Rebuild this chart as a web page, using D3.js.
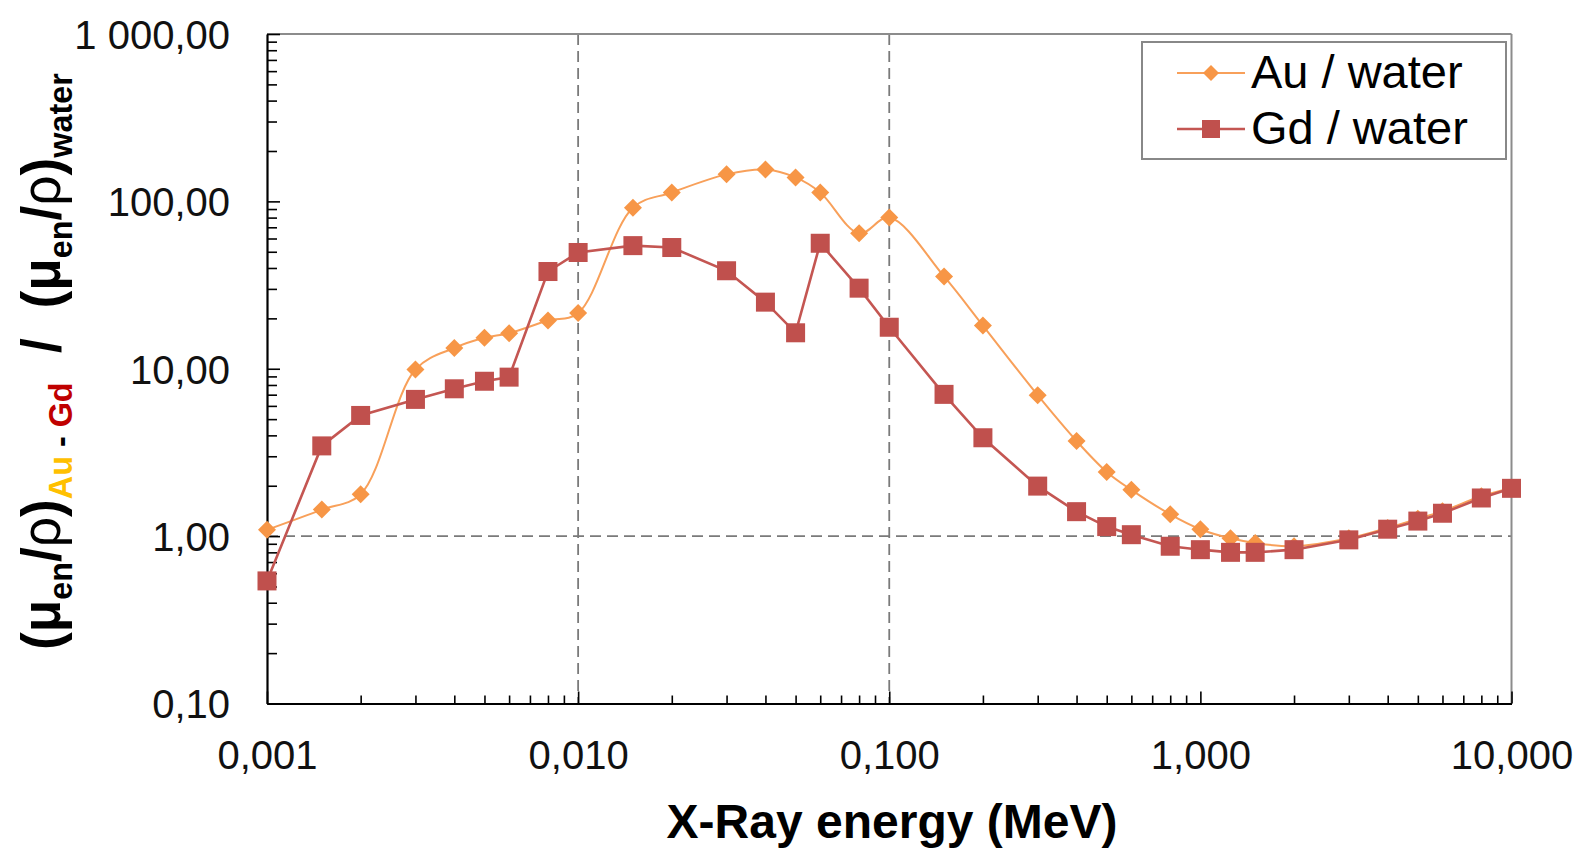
<!DOCTYPE html>
<html>
<head>
<meta charset="utf-8">
<script src="https://cdn.jsdelivr.net/npm/d3@7"></script>
<style>
  html, body { margin: 0; padding: 0; background: #fff; }
  svg { display: block; font-family: "Liberation Sans", Arial, sans-serif; }
</style>
</head>
<body>
<svg id="chart" width="1581" height="850"></svg>
<script>
// ---- data ----
const energy = [0.001, 0.0015, 0.002, 0.003, 0.004, 0.005, 0.006, 0.008, 0.01, 0.015, 0.02, 0.03, 0.04, 0.05, 0.06, 0.08, 0.1, 0.15, 0.2, 0.3, 0.4, 0.5, 0.6, 0.8, 1, 1.25, 1.5, 2, 3, 4, 5, 6, 8, 10];
const auWater = [1.09, 1.44, 1.78, 9.9, 13.3, 15.3, 16.3, 19.4, 21.5, 91.7, 113, 145, 155, 139, 113, 64.4, 80, 35.6, 18.1, 6.95, 3.70, 2.42, 1.89, 1.35, 1.10, 0.97, 0.91, 0.87, 0.97, 1.12, 1.27, 1.41, 1.73, 1.94];
const gdWater = [0.54, 3.46, 5.26, 6.56, 7.59, 8.42, 8.91, 38.1, 49.5, 54.4, 53, 38.5, 25, 16.4, 56.2, 30.3, 17.7, 7.03, 3.87, 1.99, 1.40, 1.14, 1.02, 0.87, 0.83, 0.80, 0.80, 0.83, 0.95, 1.10, 1.23, 1.37, 1.69, 1.93];
const seriesNames = ["Au / water", "Gd / water"];
const xTicks = [0.001, 0.01, 0.1, 1, 10];
const yTicks = [0.1, 1, 10, 100, 1000];
const xGrid = [0.01, 0.1];
const yGrid = [1];
const xTitle = "X-Ray energy (MeV)";

// ---- layout ----
const svg = d3.select("#chart");
const L = 267, R = 1511.5, T = 34, B = 703.5;
const x = d3.scaleLog().domain([0.001, 10]).range([L, R]);
const y = d3.scaleLog().domain([0.1, 1000]).range([B, T]);
const loc = d3.formatLocale({decimal: ",", thousands: "\u00a0", grouping: [3], currency: ["", ""]});
const fmtY = loc.format(",.2f");
const fmtX = loc.format(",.3f");

const AU = "#F79646", AU_LINE = "#F8A05A";
const GD = "#C0504D", GD_LINE = "#C45652";

function minors(lo, hi) {
  const out = [];
  for (let p = lo; p < hi; p *= 10) for (let k = 2; k <= 9; k++) out.push(+(p * k).toPrecision(6));
  return out;
}

// gridlines (dashed)
const grid = svg.append("g");
grid.selectAll(".vg").data(xGrid).join("line")
  .attr("x1", d => x(d)).attr("x2", d => x(d)).attr("y1", T).attr("y2", B)
  .attr("stroke", "#7a7a7a").attr("stroke-width", 1.8).attr("stroke-dasharray", "11,6");
grid.selectAll(".hg").data(yGrid).join("line")
  .attr("x1", L).attr("x2", R).attr("y1", d => y(d)).attr("y2", d => y(d))
  .attr("stroke", "#7a7a7a").attr("stroke-width", 1.8).attr("stroke-dasharray", "11,6");

// frame top/right
svg.append("line").attr("x1", L).attr("x2", R).attr("y1", T).attr("y2", T).attr("stroke", "#8c8c8c").attr("stroke-width", 2);
svg.append("line").attr("x1", R).attr("x2", R).attr("y1", T).attr("y2", B).attr("stroke", "#8c8c8c").attr("stroke-width", 2);

// y axis
const yAxisG = svg.append("g").attr("transform", `translate(${L},0)`)
  .call(d3.axisLeft(y).tickValues(yTicks).tickSize(-13).tickSizeOuter(0).tickPadding(37).tickFormat(fmtY));
svg.append("g").attr("transform", `translate(${L},0)`)
  .call(d3.axisLeft(y).tickValues(minors(0.1, 1000)).tickSize(-10).tickSizeOuter(0).tickFormat(""))
  .select(".domain").remove();

// x axis
const xAxisG = svg.append("g").attr("transform", `translate(0,${B})`)
  .call(d3.axisBottom(x).tickValues(xTicks).tickSize(-12).tickSizeOuter(0).tickPadding(37).tickFormat(fmtX));
svg.append("g").attr("transform", `translate(0,${B})`)
  .call(d3.axisBottom(x).tickValues(minors(0.001, 10)).tickSize(-8).tickSizeOuter(0).tickFormat(""))
  .select(".domain").remove();

svg.selectAll(".domain").attr("stroke", "#000").attr("stroke-width", 2.2);
svg.selectAll(".tick line").attr("stroke", "#000").attr("stroke-width", 1.6);
svg.selectAll(".tick text").attr("font-size", 40).attr("fill", "#111")
  .attr("font-family", "'Liberation Sans', Arial, sans-serif");
yAxisG.selectAll(".tick text").attr("dy", "0.36em");
xAxisG.selectAll(".tick text").attr("dy", "0.71em");

// series
const au = energy.map((e, i) => [e, auWater[i]]);
const gd = energy.map((e, i) => [e, gdWater[i]]);

const lineSmooth = d3.line().x(d => x(d[0])).y(d => y(d[1])).curve(d3.curveCatmullRom.alpha(0.5));
const lineStraight = d3.line().x(d => x(d[0])).y(d => y(d[1]));
function diamondPath(h) { return `M0,${-h}L${h},0L0,${h}L${-h},0Z`; }

svg.append("path").datum(au).attr("d", lineSmooth).attr("fill", "none").attr("stroke", AU_LINE).attr("stroke-width", 2);
svg.append("g").selectAll("path").data(au).join("path")
  .attr("transform", d => `translate(${x(d[0])},${y(d[1])})`)
  .attr("d", diamondPath(9)).attr("fill", AU);

svg.append("path").datum(gd).attr("d", lineStraight).attr("fill", "none").attr("stroke", GD_LINE).attr("stroke-width", 2.6);
svg.append("g").selectAll("rect").data(gd).join("rect")
  .attr("x", d => x(d[0]) - 9.5).attr("y", d => y(d[1]) - 9.5)
  .attr("width", 19).attr("height", 19).attr("fill", GD);

// legend
const lg = svg.append("g");
lg.append("rect").attr("x", 1142).attr("y", 42).attr("width", 364).attr("height", 117)
  .attr("fill", "#fff").attr("stroke", "#888").attr("stroke-width", 2);
const legY = [73, 129];
lg.append("line").attr("x1", 1177).attr("x2", 1245).attr("y1", legY[0]).attr("y2", legY[0]).attr("stroke", AU_LINE).attr("stroke-width", 2);
lg.append("path").attr("transform", `translate(1211,${legY[0]})`).attr("d", diamondPath(8)).attr("fill", AU);
lg.append("line").attr("x1", 1177).attr("x2", 1245).attr("y1", legY[1]).attr("y2", legY[1]).attr("stroke", GD_LINE).attr("stroke-width", 2.6);
lg.append("rect").attr("x", 1202).attr("y", legY[1] - 9).attr("width", 18).attr("height", 18).attr("fill", GD);
lg.selectAll("text").data(seriesNames).join("text")
  .attr("x", 1251).attr("y", (d, i) => legY[i] + 15).attr("font-size", 47).attr("fill", "#000").text(d => d);

// x title
svg.append("text").attr("x", 892).attr("y", 838).attr("text-anchor", "middle")
  .attr("font-size", 48).attr("font-weight", "bold").attr("fill", "#000").text(xTitle);

// y title (rotated, with subscripts)
const F = 56, S = 34, SH = 12;
const yt = svg.append("text").attr("font-weight", "bold").attr("fill", "#000").attr("font-size", F);
const parts = [
  {t: "(\u03bc", s: F, dy: 0},
  {t: "en", s: S, dy: SH},
  {t: "/", s: F, dy: -SH},
  {t: "\u03c1", s: F, dy: 0, w: "normal"},
  {t: ")", s: F, dy: 0},
  {t: "Au", s: S, dy: SH, c: "#FFC000"},
  {t: " - ", s: S, dy: 0},
  {t: "Gd", s: S, dy: 0, c: "#C00000"},
  {t: "  /  (\u03bc", s: F, dy: -SH},
  {t: "en", s: S, dy: SH},
  {t: "/", s: F, dy: -SH},
  {t: "\u03c1", s: F, dy: 0, w: "normal"},
  {t: ")", s: F, dy: 0},
  {t: "water", s: S, dy: SH}
];
yt.selectAll("tspan").data(parts).join("tspan")
  .attr("font-size", d => d.s).attr("dy", d => d.dy)
  .attr("font-weight", d => d.w || "bold")
  .attr("fill", d => d.c || "#000")
  .style("white-space", "pre")
  .text(d => d.t);
const w = yt.node().getComputedTextLength();
const target = 650 - 73;
yt.attr("transform", `translate(60,650) rotate(-90) scale(${target / w},1)`);
</script>
</body>
</html>
